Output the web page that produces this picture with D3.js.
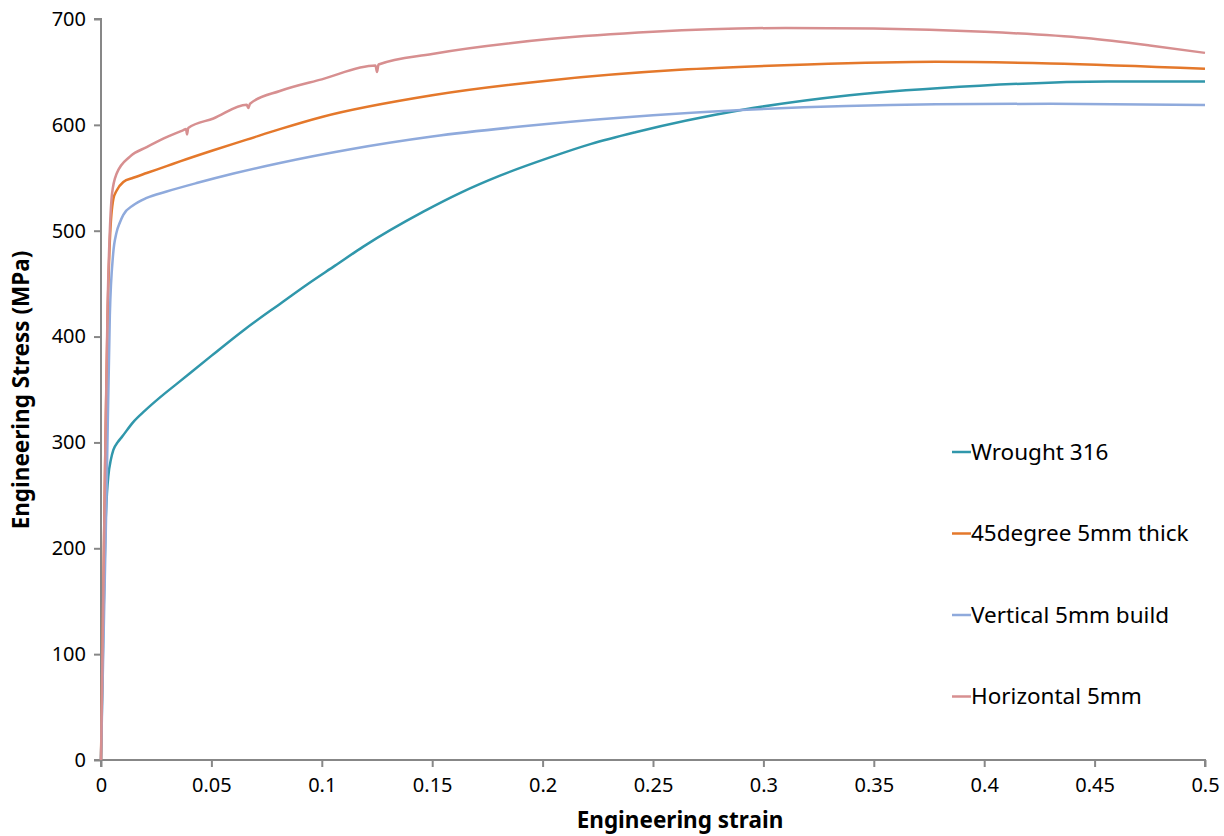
<!DOCTYPE html>
<html>
<head>
<meta charset="utf-8">
<script src="https://cdn.jsdelivr.net/npm/d3@7"></script>
<style>
    body { margin: 0; background: #fff; }
    svg { display: block; font-family: 'Noto Sans', sans-serif; }
    .axis path, .axis line { stroke: #878787; stroke-width: 2px; }
    .axis text { fill: #000; font-size: 20px; font-family: 'Noto Sans', sans-serif; }
</style>
</head>
<body>
<svg width="1224" height="836"></svg>
<script>
const X_TICKS = [0, 0.05, 0.1, 0.15, 0.2, 0.25, 0.3, 0.35, 0.4, 0.45, 0.5];
const Y_TICKS = [0, 100, 200, 300, 400, 500, 600, 700];
const SERIES_NAMES = ['Wrought 316', '45degree 5mm thick', 'Vertical 5mm build', 'Horizontal 5mm'];
const COLORS = ['#3097ab', '#e4782b', '#8faadc', '#d78f90'];

// [strain, stress MPa]
const WROUGHT = [
    [0, 0], [0.001, 120], [0.002, 220], [0.0027, 252], [0.0033, 268], [0.0045, 284],
    [0.0056, 293], [0.0075, 300], [0.0094, 305], [0.0145, 319], [0.0199, 330],
    [0.027, 343], [0.035, 356.5], [0.0501, 382], [0.0652, 407], [0.0818, 432],
    [0.0932, 449], [0.106, 467], [0.1188, 485], [0.146, 518], [0.163, 536],
    [0.1807, 552], [0.203, 569], [0.222, 582], [0.242, 593], [0.29, 614],
    [0.339, 628], [0.398, 637], [0.456, 641], [0.5, 641]
];
const DEG45 = [
    [0, 0], [0.001, 150], [0.002, 300], [0.003, 420], [0.004, 490], [0.0056, 530],
    [0.0071, 538], [0.0101, 546], [0.0146, 550], [0.0207, 554.5], [0.0297, 561],
    [0.0358, 565.5], [0.0509, 576], [0.066, 586], [0.081, 596], [0.1, 607.5],
    [0.15, 628], [0.203, 642], [0.262, 652], [0.32, 657], [0.378, 659.5],
    [0.43, 658], [0.5, 653]
];
const VERTICAL = [
    [0, 0], [0.001, 100], [0.0025, 250], [0.004, 420], [0.0055, 478], [0.007, 498],
    [0.0086, 508], [0.0101, 515], [0.0146, 524], [0.0207, 531], [0.0297, 537],
    [0.0433, 545], [0.06, 554], [0.081, 564], [0.113, 577], [0.15, 589],
    [0.203, 601], [0.25, 609], [0.29, 614], [0.378, 619.4], [0.43, 620], [0.5, 618.7]
];
const HORIZONTAL = [
    [0, 0], [0.001, 150], [0.002, 300], [0.003, 430], [0.004, 500], [0.005, 535],
    [0.0071, 554], [0.0131, 570], [0.0207, 579], [0.0282, 587], [0.0373, 595],
    [0.0385, 596], [0.039, 591], [0.0395, 597], [0.0509, 606], [0.066, 619],
    [0.0667, 616], [0.0675, 620], [0.081, 632], [0.1, 643], [0.1243, 656],
    [0.125, 650], [0.1257, 657], [0.15, 667], [0.203, 681], [0.25, 688],
    [0.31, 691.5], [0.35, 691], [0.4, 688], [0.446, 682], [0.475, 675], [0.5, 668]
];
const DATA = [WROUGHT, DEG45, VERTICAL, HORIZONTAL];

const svg = d3.select('svg');

const x = d3.scaleLinear().domain([0, 0.5]).range([101, 1205]);
const y = d3.scaleLinear().domain([0, 700]).range([760, 19]);

const xAxis = d3.axisBottom(x).tickValues(X_TICKS).tickSize(7).tickPadding(11)
    .tickFormat(d => d3.format('')(+d.toFixed(2)));
const yAxis = d3.axisLeft(y).tickValues(Y_TICKS).tickSize(7).tickPadding(8);

svg.append('g')
    .attr('class', 'axis')
    .attr('transform', 'translate(0,' + 760 + ')')
    .call(xAxis)
    .call(g => g.select('.domain').attr('d', 'M101,7V0H1205V7'));

svg.append('g')
    .attr('class', 'axis')
    .attr('transform', 'translate(101,0)')
    .call(yAxis)
    .call(g => g.select('.domain').attr('d', 'M-7,19H0V760H-7'));

const line = d3.line()
    .x(d => x(d[0]))
    .y(d => y(d[1]))
    .curve(d3.curveMonotoneX);

svg.append('g')
    .selectAll('path')
    .data(DATA)
    .enter()
    .append('path')
    .attr('d', line)
    .attr('fill', 'none')
    .attr('stroke', (d, i) => COLORS[i])
    .attr('stroke-width', 2.5)
    .attr('stroke-linejoin', 'round');

const legend = svg.append('g')
    .selectAll('g')
    .data(SERIES_NAMES)
    .enter()
    .append('g')
    .attr('transform', (d, i) => 'translate(952,' + (452 + 81.5 * i) + ')');

legend.append('line')
    .attr('x1', 0).attr('x2', 19)
    .attr('y1', 0).attr('y2', 0)
    .attr('stroke', (d, i) => COLORS[i])
    .attr('stroke-width', 2.5);

legend.append('text')
    .attr('x', 19)
    .attr('y', 0)
    .attr('dy', '0.35em')
    .style('font-size', '22.5px')
    .text(d => d);

svg.append('text')
    .attr('x', 680)
    .attr('y', 828)
    .attr('text-anchor', 'middle')
    .style('font-size', '22.5px')
    .style('font-weight', 'bold')
    .text('Engineering strain');

svg.append('text')
    .attr('transform', 'translate(29,390) rotate(-90)')
    .attr('text-anchor', 'middle')
    .style('font-size', '22.5px')
    .style('font-weight', 'bold')
    .text('Engineering Stress (MPa)');
</script>
</body>
</html>
